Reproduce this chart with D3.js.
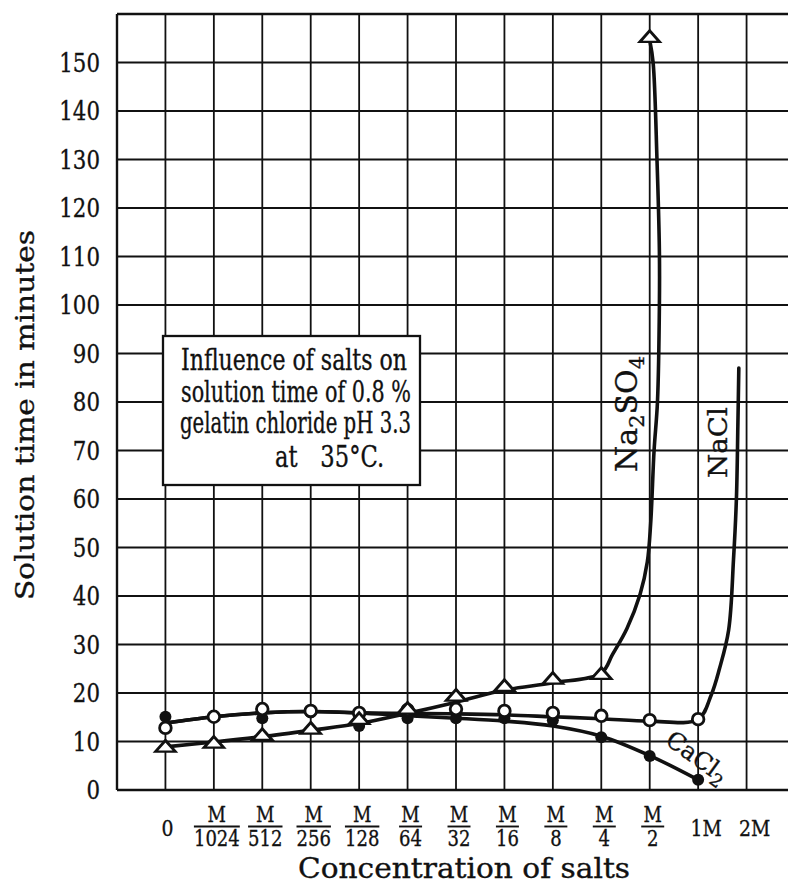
<!DOCTYPE html>
<html>
<head>
<meta charset="utf-8">
<script src="https://cdn.jsdelivr.net/npm/d3@7"></script>
<style>
  html, body { margin: 0; padding: 0; background: #fff; }
  svg { display: block; }
  text { font-family: "DejaVu Serif", "Liberation Serif", serif; fill: #111; stroke: #111; stroke-width: 0.35; }
</style>
</head>
<body>
<svg id="chart" width="788" height="891"></svg>
<script>
// Concentration categories (index positions on the x axis)
const categories = ["0", "M/1024", "M/512", "M/256", "M/128", "M/64", "M/32", "M/16", "M/8", "M/4", "M/2", "1M", "2M"];
const tickNumerators   = [null, "M", "M", "M", "M", "M", "M", "M", "M", "M", "M", null, null];
const tickDenominators = ["0", "1024", "512", "256", "128", "64", "32", "16", "8", "4", "2", "1M", "2M"];
const yTickValues = [0, 10, 20, 30, 40, 50, 60, 70, 80, 90, 100, 110, 120, 130, 140, 150];

// Measured solution times (minutes) at each concentration
const naclValues   = [12.8, 15.1, 16.7, 16.3, 15.9, 16.5, 16.7, 16.3, 15.9, 15.3, 14.4, 14.6];
const cacl2Values  = [15.1, 15.1, 14.8, 16.0, 13.2, 14.8, 14.8, 14.8, 14.4, 10.9, 7.0, 2.1];
const na2so4Values = [8.7, 9.5, 11.1, 12.4, 14.4, 16.5, 19.2, 21.2, 22.7, 23.7, 155.0];

// Smoothed curves drawn through the measurements: [category index, minutes]
const naclCurve = [[0, 13.8], [1, 15.1], [2, 15.9], [3, 16.2], [4, 15.9], [5, 15.8], [6, 15.7], [7, 15.5],
  [8, 15.1], [9, 14.7], [10, 14.2], [11, 14.6], [11.27, 19.6], [11.44, 25], [11.63, 33], [11.73, 47.5],
  [11.79, 60], [11.82, 75], [11.84, 87]];
const cacl2Curve = [[0, 13.8], [1, 15.1], [2, 15.9], [3, 16.2], [4, 15.9], [5, 15.3], [6, 14.8], [7, 14.2],
  [8, 13.2], [9, 11.1], [10, 7.1], [11, 2.1]];
const na2so4Curve = [[0, 8.9], [1, 9.9], [2, 11.0], [3, 12.3], [4, 13.7], [5, 15.8], [6, 18.1], [7, 20.6],
  [8, 22.1], [9, 24.1], [9.23, 27.9], [9.53, 33.3], [9.8, 40.3], [9.95, 47], [10.02, 55], [10.09, 70],
  [10.16, 80], [10.2, 100], [10.2, 111], [10.15, 130], [10.07, 150], [10.0, 154.6]];

const titleLines = ["Influence of salts on", "solution time of 0.8 %", "gelatin chloride pH 3.3", "at 35°C."];

const svg = d3.select("#chart");
const ink = "#111";

const x = d3.scaleLinear().domain([-1, 13]).range([117, 795]);
const y = d3.scaleLinear().domain([0, 160]).range([790, 14]);

function fitTo(sel, w, mode) {
  sel.attr("textLength", w).attr("lengthAdjust", mode || "spacingAndGlyphs");
}

// Grid
const grid = svg.append("g").attr("stroke", ink).attr("stroke-width", 1.8).attr("fill", "none");
grid.selectAll("line.v").data(d3.range(-1, 14)).join("line")
  .attr("x1", d => x(d)).attr("x2", d => x(d))
  .attr("y1", y(160)).attr("y2", y(0));
grid.selectAll("line.h").data(yTickValues.concat([160])).join("line")
  .attr("x1", x(-1)).attr("x2", x(13))
  .attr("y1", d => y(d)).attr("y2", d => y(d));
grid.append("line").attr("x1", x(-1)).attr("x2", x(13)).attr("y1", y(0)).attr("y2", y(0)).attr("stroke-width", 2.4);
grid.append("line").attr("x1", x(-1)).attr("x2", x(13)).attr("y1", y(160)).attr("y2", y(160)).attr("stroke-width", 2.4);
grid.append("line").attr("x1", x(-1)).attr("x2", x(-1)).attr("y1", y(160)).attr("y2", y(0)).attr("stroke-width", 2.4);

// Y tick labels (narrow lettering via horizontal scale)
svg.append("g").selectAll("text").data(yTickValues).join("text")
  .attr("transform", d => `translate(100,${y(d)}) scale(0.82,1)`)
  .attr("dy", "0.36em").attr("text-anchor", "end").attr("font-size", 26)
  .text(d => d);

// X tick labels (fractions of molar)
const xt = svg.append("g");
categories.forEach((c, i) => {
  const cx = x(i) + 3;
  if (tickNumerators[i]) {
    const t = xt.append("text").attr("transform", `translate(${cx},0) scale(0.82,1)`)
      .attr("text-anchor", "middle").attr("font-size", 22);
    t.append("tspan").attr("x", 0).attr("y", 822).text(tickNumerators[i]);
    t.append("tspan").attr("x", 0).attr("y", 846).text(tickDenominators[i]);
    const w = Math.max(23, t.node().getBBox().width * 0.82);
    xt.append("line").attr("x1", cx - w / 2).attr("x2", cx + w / 2)
      .attr("y1", 826.5).attr("y2", 826.5).attr("stroke", ink).attr("stroke-width", 1.9);
  } else {
    xt.append("text").attr("transform", `translate(${cx + (i === 0 ? -1 : 5)},836) scale(0.82,1)`)
      .attr("text-anchor", "middle").attr("font-size", 23).text(tickDenominators[i]);
  }
});

// Axis titles
svg.append("text").attr("transform", "translate(34,415) rotate(-90)")
  .attr("text-anchor", "middle").attr("font-size", 26)
  .text("Solution time in minutes").call(fitTo, 370);
svg.append("text").attr("x", 464).attr("y", 878).attr("text-anchor", "middle")
  .attr("font-size", 27).text("Concentration of salts").call(fitTo, 332);

// Title box
svg.append("rect").attr("x", 163).attr("y", 336).attr("width", 257).attr("height", 149)
  .attr("fill", "#fff").attr("stroke", ink).attr("stroke-width", 2.3);
const tb = svg.append("g").attr("font-size", 29);
const lineBase = [370, 402, 433, 467];
const lineStart = [181, 181, 180, 275];
const lineWidth = [226, 230, 231, 115];
titleLines.forEach((t, k) => {
  const el = tb.append("text").attr("x", lineStart[k]).attr("y", lineBase[k]).text(t);
  if (k < 3) {
    el.call(fitTo, lineWidth[k]);
  } else {
    // last line keeps narrow glyphs, with a wide gap between words
    el.attr("x", 0).attr("y", 0).attr("word-spacing", 20)
      .attr("transform", `translate(${lineStart[k]},${lineBase[k]}) scale(0.78,1)`);
  }
});

// Curves
const line = d3.line().x(d => x(d[0])).y(d => y(d[1])).curve(d3.curveCatmullRom.alpha(0.5));
const curves = svg.append("g").attr("fill", "none").attr("stroke", ink).attr("stroke-width", 3.6)
  .attr("stroke-linejoin", "round").attr("stroke-linecap", "round");
[naclCurve, cacl2Curve, na2so4Curve].forEach(c => curves.append("path").attr("d", line(c)));

// Markers
const marks = svg.append("g");
marks.selectAll("circle.ca").data(cacl2Values).join("circle")
  .attr("cx", (d, i) => x(i)).attr("cy", d => y(d)).attr("r", 6).attr("fill", ink);
marks.selectAll("circle.na").data(naclValues).join("circle")
  .attr("cx", (d, i) => x(i)).attr("cy", d => y(d)).attr("r", 5.8)
  .attr("fill", "#fff").attr("stroke", ink).attr("stroke-width", 2.8);
const tri = d3.symbol().type(d3.symbolTriangle).size(100);
marks.selectAll("path.tri").data(na2so4Values).join("path")
  .attr("transform", (d, i) => `translate(${x(i)},${y(d)}) scale(1.3,0.85)`)
  .attr("d", tri()).attr("fill", "#fff").attr("stroke", ink).attr("stroke-width", 2.6);

// Series labels
const sodSulf = svg.append("text").attr("transform", "translate(637,472) rotate(-90)").attr("font-size", 30);
sodSulf.append("tspan").text("Na");
sodSulf.append("tspan").attr("dy", 7).attr("font-size", 21).text("2");
sodSulf.append("tspan").attr("dy", -7).text("SO");
sodSulf.append("tspan").attr("dy", 7).attr("font-size", 21).text("4");
svg.append("text").attr("transform", "translate(727,478) rotate(-90)").attr("font-size", 26)
  .text("NaCl").call(fitTo, 71);
const calc = svg.append("text").attr("transform", "translate(664,743) rotate(36)").attr("font-size", 24);
calc.append("tspan").text("CaCl");
calc.append("tspan").attr("dy", 6).attr("font-size", 18).text("2");
</script>
</body>
</html>
